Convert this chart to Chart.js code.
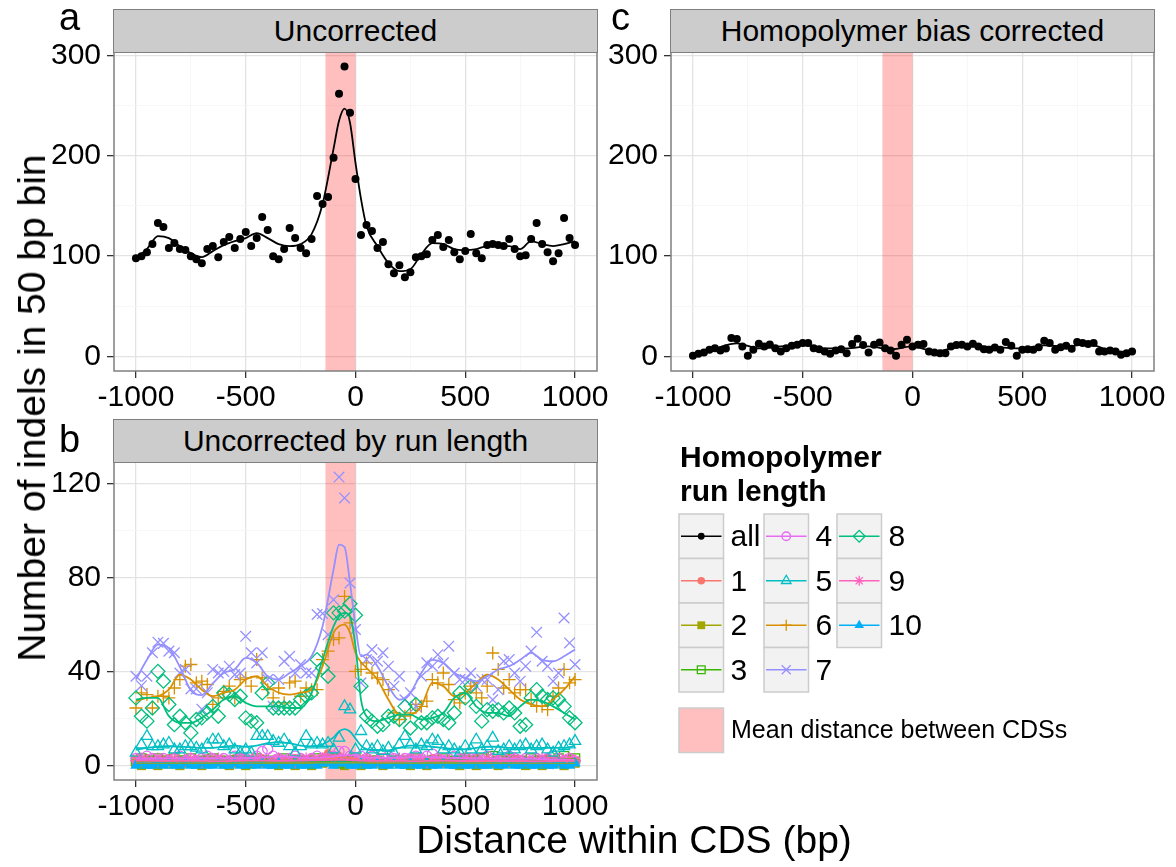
<!DOCTYPE html>
<html>
<head>
<meta charset="utf-8">
<script src="https://cdn.jsdelivr.net/npm/chart.js@4.4.1/dist/chart.umd.min.js"></script>
<style>
  body { margin: 0; background: #fff; font-family: 'Liberation Sans', Arial, sans-serif; color: #000; }
  #wrap { position: relative; width: 1176px; height: 867px; overflow: hidden; }
  #wrap canvas { position: absolute; }
  .strip { position: absolute; background: #cccccc; border: 1.5px solid #7f7f7f; box-sizing: border-box;
           font-size: 30px; text-align: center; }
  .txt { position: absolute; white-space: nowrap; }
</style>
</head>
<body>
<div id="wrap">
  <canvas id="chartA" width="1176" height="867" style="left:0;top:0"></canvas>
  <canvas id="chartC" width="1176" height="867" style="left:0;top:0"></canvas>
  <canvas id="chartB" width="1176" height="867" style="left:0;top:0"></canvas>
  <canvas id="legendKeys" width="240" height="260" style="left:670px;top:505px"></canvas>

  <div class="strip" style="left:113px;top:9px;width:485px;height:44px;line-height:41px">Uncorrected</div>
  <div class="strip" style="left:670px;top:9px;width:485px;height:44px;line-height:41px">Homopolymer bias corrected</div>
  <div class="strip" style="left:113px;top:419px;width:485px;height:44px;line-height:41px">Uncorrected by run length</div>

  <div class="txt" style="left:59px;top:-4px;font-size:38px">a</div>
  <div class="txt" style="left:611px;top:-4px;font-size:38px">c</div>
  <div class="txt" style="left:59px;top:418px;font-size:38px">b</div>

  <div class="txt" style="left:634px;top:818px;font-size:39px;transform:translateX(-50%)">Distance within CDS (bp)</div>
  <div class="txt" style="left:32px;top:408px;font-size:39px;transform:translate(-50%,-50%) rotate(-90deg)">Number of indels in 50 bp bin</div>

  <div class="txt" style="left:680px;top:440px;font-size:30px;font-weight:bold;line-height:34px">Homopolymer<br>run length</div>
  <div id="legendText"></div>
  <div class="txt" style="left:731px;top:715px;font-size:25px">Mean distance between CDSs</div>
</div>

<script>
// bins of 25 bp from -1000 to 1000
const binX = Array.from({ length: 81 }, (_, i) => -1000 + 25 * i);
const smoothX = [-1000, -950, -900, -850, -800, -750, -700, -650, -600, -550, -500, -450, -400, -350, -300, -250, -200, -150, -100,
  -75, -50, -25, 0, 25, 50,
  100, 150, 200, 250, 300, 350, 400, 450, 500, 550, 600, 650, 700, 750, 800, 850, 900, 950, 1000];
const smoothXc = [-1000, -900, -800, -700, -600, -500, -400, -300, -200, -100, 0, 100, 200, 300, 400, 500, 600, 700, 800, 900, 1000];

const cdsBand = [-137, 0];

const xMajor = [-1000, -500, 0, 500, 1000];
const xMinor = [-750, -250, 250, 750];
const yMajorTop = [0, 100, 200, 300];
const yMinorTop = [50, 150, 250];
const yMajorB = [0, 40, 80, 120];
const yMinorB = [20, 60, 100];

// panel a: uncorrected, all run lengths
const uncorrected = [
  98, 100, 104, 112, 133, 129, 108, 113, 107, 106,
  100, 97, 93, 107, 110, 99, 114, 119, 108, 117,
  124, 110, 118, 139, 126, 100, 97, 107, 128, 118,
  108, 103, 117, 160, 152, 159, 198, 262, 289, 243,
  177, 121, 131, 125, 108, 114, 92, 83, 91, 79,
  84, 99, 100, 102, 116, 121, 109, 116, 104, 97,
  105, 122, 103, 98, 111, 112, 111, 110, 117, 107,
  100, 101, 117, 133, 112, 104, 95, 103, 138, 118,
  111];
const uncorrectedSmooth = [98, 107, 120, 118, 110, 103, 99, 105, 111, 115, 118, 123, 118, 112, 110, 112, 122, 152, 207,
  235, 247, 233, 193, 157, 130,
  110, 93, 85, 87, 102, 113, 112, 107, 106, 107, 110, 110, 110, 107, 115, 112, 110, 112, 115];

// panel c: homopolymer bias corrected
const corrected = [
  0.7, 2.7, 4, 6.7, 8.3, 6, 8, 18.3, 17.3, 10,
  0.7, 6.7, 12.7, 10, 12, 8.3, 5, 8.3, 10.7, 11.7,
  13.3, 13.3, 8.3, 7.3, 5, 2.7, 6, 7.3, 3.3, 12.3,
  17.7, 11.3, 4, 11.7, 14, 8.3, 6, 0.7, 11.7, 16.7,
  10, 11.7, 12.3, 5, 4, 3.3, 3.3, 10, 11.3, 11.7,
  10, 12.7, 10, 7.3, 6.7, 9, 6.7, 14.3, 10.7, 0.7,
  6.7, 7.3, 6.7, 9.3, 15.7, 13.3, 6.7, 9.3, 10.7, 7.7,
  14.3, 13.3, 12.3, 13.3, 5, 5, 6, 5, 1.7, 3.3,
  5];
const correctedSmooth = [2, 8, 13, 8, 10, 11, 8, 8, 10, 7, 10, 5, 9, 10, 9, 8, 11, 10, 12, 6, 4];

// panel b: uncorrected by run length
const run1 = [2, 1, 3, 2, 1, 2, 3, 1, 2, 2, 1, 2, 1, 3, 2, 2, 1, 2, 3, 2, 2, 1, 2, 3, 2, 1, 2, 2, 1, 3,
  2, 2, 3, 2, 3, 5, 3, 4, 2, 3, 2, 1, 2, 1, 2, 1, 2, 2, 1, 2, 3, 2, 1, 2, 3, 2, 2, 1, 2, 1,
  2, 2, 3, 1, 2, 2, 1, 2, 3, 2, 1, 2, 2, 1, 2, 3, 2, 2, 1, 2, 2];
const run2 = [1, 0, 1, 1, 0, 1, 2, 1, 0, 1, 1, 1, 0, 1, 1, 2, 1, 0, 1, 1, 0, 1, 1, 1, 2, 1, 0, 1, 1, 0,
  1, 1, 0, 1, 1, 2, 1, 1, 0, 1, 1, 0, 1, 1, 1, 0, 1, 2, 1, 1, 0, 1, 1, 0, 1, 1, 1, 2, 1, 0,
  1, 1, 0, 1, 1, 1, 0, 1, 1, 2, 1, 0, 1, 1, 0, 1, 1, 1, 0, 1, 1];
const run3 = [2, 3, 1, 2, 3, 2, 1, 3, 2, 2, 3, 1, 2, 2, 3, 2, 1, 2, 2, 3, 2, 1, 3, 2, 2, 1, 2, 3, 2, 1,
  2, 2, 1, 3, 2, 2, 3, 1, 2, 2, 3, 2, 1, 2, 2, 3, 1, 2, 2, 1, 2, 3, 2, 1, 2, 2, 3, 2, 1, 2,
  3, 2, 2, 3, 1, 4, 2, 2, 3, 2, 2, 1, 3, 2, 2, 1, 2, 3, 4, 2, 3];
const run4 = [3, 2, 4, 3, 2, 3, 2, 3, 4, 2, 3, 2, 3, 4, 3, 2, 3, 2, 4, 3, 3, 2, 4, 6, 7, 4, 3, 2, 3, 4,
  3, 2, 3, 4, 3, 3, 4, 6, 6, 4, 3, 4, 3, 4, 2, 3, 4, 3, 2, 3, 3, 4, 3, 4, 5, 3, 2, 3, 4, 3,
  2, 3, 3, 2, 4, 3, 2, 3, 4, 3, 2, 3, 2, 3, 2, 3, 4, 3, 2, 3, 2];
const run5 = [
  5.4, 8.9, 12.5, 8.2, 8.2, 8.9, 9.6, 6.8, 6.8, 8.2,
  8.2, 7.5, 6.8, 8.9, 11, 11, 8.2, 8.9, 6.8, 5.4,
  6.8, 5.4, 12.5, 12.5, 12.5, 10.4, 9.6, 11, 8.2, 5.4,
  8.2, 12.5, 8.9, 9.6, 8.9, 9.6, 6.8, 11.8, 25.2, 23.8,
  6.8, 14.6, 8.2, 6.8, 8.2, 6.1, 7.5, 5.4, 8.9, 12.5,
  8.9, 6.8, 8.9, 8.2, 11, 10.4, 6.8, 8.2, 6.8, 5.4,
  8.2, 6.8, 11, 6.8, 8.2, 11.8, 6.1, 6.8, 8.2, 6.8,
  8.2, 8.9, 6.8, 8.2, 8.9, 6.8, 5.4, 7.5, 8.2, 8.9,
  10.4];
const run6 = [
  24.5, 30.9, 30.2, 24.5, 29.5, 29.5, 28.8, 33, 36.6, 42.3,
  43, 35.2, 35.9, 34.5, 26, 28.8, 31.6, 33.8, 28.8, 36.6,
  37.3, 33.8, 45.1, 37.3, 32.3, 28.8, 33, 26.7, 35.2, 35.9,
  29.5, 33, 32.3, 32.3, 45.1, 48.7, 53.6, 54.3, 72, 60.7,
  40.1, 40.9, 43.7, 39.4, 37.3, 36.6, 32.3, 22.4, 19.6, 21,
  22.4, 26, 25.2, 27.4, 36.6, 35.2, 39.4, 34.5, 28.1, 26.7,
  30.9, 33.8, 30.9, 28.8, 33.8, 47.9, 40.9, 33, 36.6, 30.9,
  32.3, 32.3, 28.1, 25.2, 25.2, 23.8, 29.5, 33, 40.9, 35.2,
  36.6];
const run7 = [
  38, 34, 38, 48, 52.5, 52, 48.7, 48, 39.4, 40.9,
  32.6, 32.6, 24, 31, 40.9, 39.4, 40, 42.3, 38.7, 39.4,
  55, 48, 43.7, 48, 36.6, 25.2, 36.6, 44.4, 46.5, 39.4,
  43, 39.4, 39.4, 64.3, 64.7, 55.7, 70.6, 122.8, 113.9, 77.7,
  57.9, 35.2, 45.1, 49.4, 44.4, 48, 42.3, 33.8, 38, 28,
  31, 25.2, 38, 43.7, 42.3, 47.2, 43.7, 50.8, 39.4, 36.6,
  36.6, 39.4, 33.8, 36.6, 36.6, 28, 32.3, 44.4, 45.1, 39.4,
  35.9, 42.3, 48.7, 56.7, 44.4, 42.3, 35.9, 39.4, 62.8, 52.2,
  43];
const run8 = [
  28.8, 21, 18.9, 24.5, 40.1, 35.9, 26, 17.4, 21, 18.2,
  13.9, 19.6, 20.3, 22.4, 25.2, 21, 30.9, 30.2, 28.1, 29.5,
  20.3, 18.9, 18.2, 30.9, 35.2, 24.5, 24.5, 24.5, 24.5, 24.5,
  28.1, 29.5, 30.9, 45.1, 41.6, 38, 65, 65, 65.7, 68.9,
  64, 33.8, 21, 18.9, 16.7, 17.4, 21, 21, 19.6, 25.2,
  16, 26, 18.2, 18.2, 20.3, 21, 19.6, 18.2, 22.4, 30.9,
  28.8, 33.8, 25.2, 18.9, 23.8, 23.1, 23.8, 22.4, 24.5, 22.4,
  16.7, 17.4, 28.8, 32.3, 29.5, 28.1, 28.8, 28.1, 25.2, 20.3,
  18.2];
const run9 = [2, 3, 2, 1, 3, 2, 2, 3, 1, 2, 3, 2, 1, 2, 2, 3, 2, 1, 2, 3, 2, 2, 3, 2, 1, 2, 3, 2, 2, 1,
  2, 3, 2, 2, 3, 3, 2, 3, 2, 2, 1, 2, 3, 2, 2, 1, 2, 2, 3, 2, 2, 3, 2, 1, 2, 3, 2, 2, 1, 2,
  3, 2, 2, 1, 3, 2, 2, 1, 2, 3, 2, 2, 1, 2, 3, 2, 1, 2, 2, 3, 2];
const run10 = [0, 1, 0, 0, 1, 0, 1, 0, 0, 1, 0, 0, 1, 0, 0, 1, 0, 0, 1, 0, 0, 1, 0, 1, 0, 0, 1, 0, 0, 1,
  0, 0, 1, 0, 1, 1, 0, 1, 1, 0, 0, 1, 0, 0, 1, 0, 0, 1, 0, 0, 1, 0, 0, 1, 0, 0, 1, 0, 0, 1,
  0, 0, 1, 0, 0, 1, 0, 0, 1, 0, 0, 1, 0, 0, 1, 0, 0, 1, 0, 0, 1];

const run1Smooth = [1.8, 1.8, 1.9, 2, 2, 1.9, 1.8, 1.8, 1.9, 2, 2, 2, 2, 2, 2.1, 2.2, 2.4, 2.8, 3.2,
  3.4, 3.4, 3.2, 2.8, 2.2, 1.8, 1.6, 1.6, 1.7, 1.8, 1.9, 2, 2, 1.9, 1.8, 1.8, 1.9, 2, 2, 1.9, 1.8, 1.8, 1.9, 2, 2];
const run2Smooth = [0.8, 0.8, 0.8, 0.9, 0.9, 0.9, 0.9, 0.9, 0.9, 0.9, 0.9, 0.9, 1, 1, 1, 1, 1, 1, 1,
  1, 1, 1, 1, 1, 1, 0.9, 0.9, 0.9, 0.9, 1, 1, 1, 1, 0.9, 0.9, 0.9, 0.9, 0.9, 0.9, 0.8, 0.8, 0.8, 0.8, 0.8];
const run3Smooth = [2.2, 2.1, 2.1, 2.1, 2, 2, 2, 2.1, 2.1, 2.1, 2, 2, 2, 2, 2, 2, 2, 2, 2.1,
  2.1, 2.1, 2, 2, 2, 2, 2, 2, 2, 2, 2, 2, 2.1, 2.2, 2.3, 2.3, 2.4, 2.4, 2.4, 2.3, 2.3, 2.4, 2.5, 2.6, 2.7];
const run4Smooth = [2.9, 2.9, 2.9, 3, 3, 3, 3, 3, 3, 3, 3.1, 3.3, 3.6, 3.9, 3.8, 3.4, 3.3, 3.4, 3.8,
  4.2, 4.4, 4.4, 4.1, 3.7, 3.4, 3.3, 3.3, 3.4, 3.6, 3.7, 3.6, 3.4, 3.2, 3, 2.9, 2.9, 2.9, 2.9, 2.8, 2.8, 2.7, 2.6, 2.5, 2.4];
const run5Smooth = [6.8, 7.5, 8, 8.2, 8, 7.8, 7.5, 7.5, 8, 8.5, 8, 8.5, 9.5, 10, 9.5, 8.5, 8.2, 9, 12,
  14.5, 15.5, 14.5, 11.5, 8.5, 7, 6.5, 6.5, 7.5, 8.5, 8.5, 8, 7.5, 7, 7, 7.5, 8, 8, 7.5, 7.5, 7.5, 7.5, 7.5, 7.5, 8.5];
const run6Smooth = [27.4, 28.8, 29.5, 32.3, 38.7, 36.6, 32.3, 29.5, 31, 32.3, 36.6, 38, 33.8, 31, 30.2, 31, 32.3, 42.3, 56.5,
  59.3, 60, 56.5, 48, 44, 41.6, 36.6, 28.1, 21.7, 21.7, 25.2, 35.2, 33.8, 29.5, 31, 35.2, 38.7, 36.6, 32.3, 28.1, 26, 25.2, 28.1, 32.3, 38];
const run7Smooth = [36.6, 45, 51.5, 50, 42, 32, 30, 35, 39.4, 41, 45.8, 43.7, 38, 36.6, 39.4, 42.3, 46.5, 59.3, 83.4,
  94, 93, 77.7, 59.3, 46.5, 47.2, 42.3, 33.8, 28, 31, 39.4, 45, 43.7, 39.4, 37.3, 35.9, 38, 40.9, 42.3, 45, 48, 45, 44.4, 46.5, 49.4];
const run8Smooth = [28.1, 28.8, 28.8, 21, 18.2, 18.2, 20.3, 23.8, 28.1, 29.5, 26.7, 25.2, 25.2, 25.2, 24.5, 24.5, 30.9, 45.1, 59.3,
  63.5, 65, 63.5, 50.8, 28.1, 21, 18.9, 20.3, 21.7, 21.7, 19.6, 20.3, 22.4, 28.8, 30.9, 25.2, 22.4, 22.4, 21, 25.2, 28.1, 27.4, 25.2, 22.4, 19.6];
const run9Smooth = [2.2, 2.1, 2, 2, 2, 2, 2, 1.9, 1.9, 2, 2.1, 2.1, 2.1, 2, 2, 2.1, 2.2, 2.3, 2.4,
  2.4, 2.4, 2.3, 2.2, 2.1, 2, 2, 2, 2, 1.9, 1.9, 2, 2.1, 2.1, 2, 2, 2.1, 2.1, 2, 2, 1.9, 1.9, 2, 2.1, 2.2];
const run10Smooth = [0.4, 0.4, 0.4, 0.4, 0.4, 0.4, 0.4, 0.4, 0.4, 0.4, 0.4, 0.4, 0.4, 0.4, 0.4, 0.4, 0.4, 0.5, 0.5,
  0.5, 0.5, 0.5, 0.5, 0.5, 0.4, 0.4, 0.4, 0.4, 0.4, 0.4, 0.4, 0.4, 0.4, 0.4, 0.4, 0.4, 0.4, 0.4, 0.4, 0.4, 0.4, 0.4, 0.4, 0.4];

const runValues = [run1, run2, run3, run4, run5, run6, run7, run8, run9, run10];
const runSmooths = [run1Smooth, run2Smooth, run3Smooth, run4Smooth, run5Smooth, run6Smooth, run7Smooth, run8Smooth, run9Smooth, run10Smooth];

// marker styles, ggplot hue palette
const allStyle = { label: 'all', color: '#000000', shape: 'circle', filled: true, r: 4 };
const runStyles = [
  { label: '1', color: '#F8766D', shape: 'circle', filled: true, r: 4.5 },
  { label: '2', color: '#A3A500', shape: 'rect', filled: true, r: 6.5 },
  { label: '3', color: '#39B600', shape: 'rect', filled: false, r: 6.5 },
  { label: '4', color: '#E76BF3', shape: 'circle', filled: false, r: 5 },
  { label: '5', color: '#00BFC4', shape: 'triangle', filled: false, r: 6.5 },
  { label: '6', color: '#D89000', shape: 'cross', filled: false, r: 6.5 },
  { label: '7', color: '#9590FF', shape: 'crossRot', filled: false, r: 7.5 },
  { label: '8', color: '#00BF7D', shape: 'rectRot', filled: false, r: 7 },
  { label: '9', color: '#FF62BC', shape: 'star', filled: false, r: 6 },
  { label: '10', color: '#00B0F6', shape: 'triangle', filled: true, r: 6.5 }
];

const W = 1176, H = 867, YW = 80, XH = 60;

Chart.defaults.font.family = "'Liberation Sans', Arial, sans-serif";
Chart.defaults.font.size = 30;
Chart.defaults.color = '#000';

function pts(xs, ys) {
  return ys.map((y, i) => ({ x: xs[i], y }));
}

function pad(l, t, r, b) {
  return { left: l - YW, top: t, right: W - r, bottom: H - b - XH };
}

function axis(min, max, major, minor, dir) {
  const all = major.concat(minor).sort((a, b) => a - b);
  const isMajor = c => major.includes(c.tick.value);
  return {
    type: 'linear',
    min, max,
    afterBuildTicks: s => { s.ticks = all.map(v => ({ value: v })); },
    afterFit: s => { if (dir === 'x') s.height = XH; else s.width = YW; },
    border: { display: false },
    grid: {
      color: c => isMajor(c) ? '#e3e3e3' : '#f5f5f5',
      lineWidth: c => isMajor(c) ? 1.3 : 0.8,
      tickColor: c => isMajor(c) ? '#333' : 'rgba(0,0,0,0)',
      tickWidth: 1.3,
      tickLength: 7
    },
    ticks: {
      autoSkip: false,
      maxRotation: 0,
      padding: dir === 'x' ? 2 : 6,
      callback: v => major.includes(v) ? String(v) : ''
    }
  };
}

const panelFrame = {
  id: 'panelFrame',
  beforeDatasetsDraw(chart) {
    const { ctx, chartArea: a, scales: { x } } = chart;
    const x0 = x.getPixelForValue(cdsBand[0]);
    const x1 = x.getPixelForValue(cdsBand[1]);
    ctx.save();
    ctx.fillStyle = 'rgba(255, 0, 0, 0.25)';
    ctx.fillRect(x0, a.top, x1 - x0, a.bottom - a.top);
    ctx.restore();
  },
  afterDatasetsDraw(chart) {
    const { ctx, chartArea: a } = chart;
    ctx.save();
    ctx.strokeStyle = '#7f7f7f';
    ctx.lineWidth = 1.5;
    ctx.strokeRect(a.left, a.top, a.right - a.left, a.bottom - a.top);
    ctx.restore();
  }
};

function pointSet(data, st, order) {
  return {
    data,
    pointStyle: st.shape,
    pointRadius: st.r,
    pointBorderWidth: st.filled ? 0 : 1.3,
    pointBorderColor: st.color,
    pointBackgroundColor: st.filled ? st.color : 'rgba(0,0,0,0)',
    order
  };
}

function lineSet(data, color, order) {
  return {
    data,
    showLine: true,
    borderColor: color,
    borderWidth: 1.8,
    pointRadius: 0,
    cubicInterpolationMode: 'monotone',
    order
  };
}

function makePanel(id, frame, yMin, yMax, yMajor, yMinor, datasets) {
  return new Chart(document.getElementById(id), {
    type: 'scatter',
    data: { datasets },
    options: {
      responsive: false,
      animation: false,
      events: [],
      layout: { padding: pad(...frame) },
      plugins: { legend: { display: false }, tooltip: { enabled: false } },
      scales: {
        x: axis(-1100, 1100, xMajor, xMinor, 'x'),
        y: axis(yMin, yMax, yMajor, yMinor, 'y')
      }
    },
    plugins: [panelFrame]
  });
}

makePanel('chartA', [114, 52, 597, 371], -14.5, 303.5, yMajorTop, yMinorTop, [
  pointSet(pts(binX, uncorrected), allStyle, 2),
  lineSet(pts(smoothX, uncorrectedSmooth), '#000', 1)
]);

makePanel('chartC', [671, 52, 1154, 371], -14.5, 303.5, yMajorTop, yMinorTop, [
  pointSet(pts(binX, corrected), allStyle, 2),
  lineSet(pts(smoothXc, correctedSmooth), '#000', 1)
]);

const runSets = [];
runStyles.forEach((st, i) => {
  runSets.push(pointSet(pts(binX, runValues[i]), st, 100 - i));
  runSets.push(lineSet(pts(smoothX, runSmooths[i]), st.color, 50 - i));
});
makePanel('chartB', [114, 462, 597, 780], -6.15, 129.2, yMajorB, yMinorB, runSets);

// legend keys
function drawLegend() {
  const ctx = document.getElementById('legendKeys').getContext('2d');
  const ox = 670, oy = 505;
  const colX = [679, 764, 837];
  const rowY = [514, 558.5, 603, 647.5];
  const k = 44.5;
  const items = [allStyle].concat(runStyles);
  const textBox = document.getElementById('legendText');
  items.forEach((st, i) => {
    const col = i < 4 ? 0 : i < 8 ? 1 : 2;
    const row = i < 4 ? i : i < 8 ? i - 4 : i - 8;
    const x = colX[col] - ox, y = rowY[row] - oy;
    ctx.fillStyle = '#f2f2f2';
    ctx.fillRect(x, y, k, k);
    ctx.strokeStyle = '#cccccc';
    ctx.lineWidth = 1.5;
    ctx.strokeRect(x, y, k, k);
    ctx.strokeStyle = st.color;
    ctx.lineWidth = 1.6;
    ctx.beginPath();
    ctx.moveTo(x + 2, y + k / 2);
    ctx.lineTo(x + k - 2, y + k / 2);
    ctx.stroke();
    ctx.fillStyle = st.filled ? st.color : 'rgba(0,0,0,0)';
    ctx.lineWidth = 1.3;
    Chart.helpers.drawPoint(ctx, {
      pointStyle: st.shape, radius: st.r * 0.85, rotation: 0, borderWidth: st.filled ? 0 : 1.3
    }, x + k / 2, y + k / 2);
    const t = document.createElement('div');
    t.className = 'txt';
    t.style.cssText = `left:${colX[col] + k + 7}px;top:${rowY[row]}px;height:${k}px;line-height:${k}px;font-size:30px`;
    t.textContent = st.label;
    textBox.appendChild(t);
  });
  const px = 679 - ox, py = 708 - oy;
  ctx.fillStyle = '#fff';
  ctx.fillRect(px, py, k, k);
  ctx.fillStyle = 'rgba(255, 0, 0, 0.25)';
  ctx.fillRect(px, py, k, k);
  ctx.strokeStyle = '#cccccc';
  ctx.lineWidth = 1.5;
  ctx.strokeRect(px, py, k, k);
}
drawLegend();
</script>
</body>
</html>
